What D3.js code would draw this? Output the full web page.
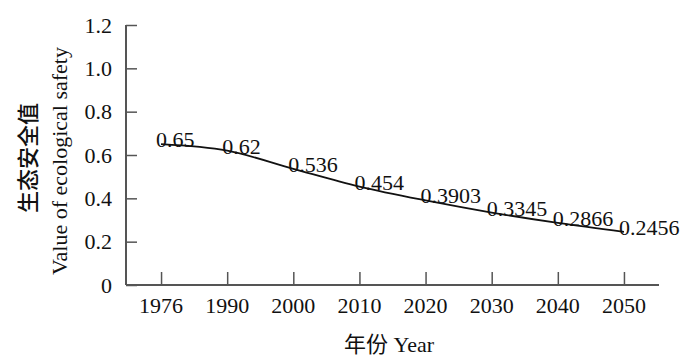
<!DOCTYPE html>
<html><head><meta charset="utf-8">
<script src="https://cdn.jsdelivr.net/npm/d3@7"></script>
<style>body{margin:0;background:#fff}svg{display:block}</style>
</head><body>
<svg id="c" width="700" height="358"></svg>
<script>
const years = ["1976","1990","2000","2010","2020","2030","2040","2050"];
const values = [0.65,0.62,0.536,0.454,0.3903,0.3345,0.2866,0.2456];
const labels = ["0.65","0.62","0.536","0.454","0.3903","0.3345","0.2866","0.2456"];
const yTicks = [0,0.2,0.4,0.6,0.8,1.0,1.2];
const yTickLabels = ["0","0.2","0.4","0.6","0.8","1.0","1.2"];

(function(){
const svg = d3.select("#c");
const serif = "'Liberation Serif','Times New Roman',serif";
const fs = 22;
const mLeft = 126, mRight = 659, mTop = 25, mBottom = 285;
const x = d3.scalePoint().domain(years).range([mLeft, mRight]).padding(0.53);
const y = d3.scaleLinear().domain([0,1.2]).range([mBottom, mTop]);
const axisColor = "#555";

// Y axis
const ya = svg.append("g").attr("transform",`translate(${mLeft},0)`)
  .call(d3.axisRight(y).tickValues(yTicks).tickSize(11).tickFormat(""));
ya.select(".domain").remove();
ya.selectAll("line").attr("stroke",axisColor).attr("stroke-width",1.5);
svg.append("line").attr("x1",mLeft).attr("x2",mLeft).attr("y1",mTop).attr("y2",mBottom)
  .attr("stroke",axisColor).attr("stroke-width",2);
svg.selectAll(".ytl").data(yTicks).enter().append("text")
  .attr("x",112).attr("y",d=>y(d)).attr("dy","0.35em").attr("text-anchor","end")
  .attr("font-family",serif).attr("font-size",fs).attr("fill","#111")
  .text((d,i)=>yTickLabels[i]);

// X axis
const xa = svg.append("g").attr("transform",`translate(0,${mBottom})`)
  .call(d3.axisTop(x).tickSize(13).tickFormat(""));
xa.select(".domain").remove();
xa.selectAll("line").attr("stroke",axisColor).attr("stroke-width",1.5);
svg.append("line").attr("x1",mLeft).attr("x2",mRight).attr("y1",mBottom).attr("y2",mBottom)
  .attr("stroke",axisColor).attr("stroke-width",2);
svg.selectAll(".xtl").data(years).enter().append("text")
  .attr("x",d=>x(d)).attr("y",313).attr("text-anchor","middle")
  .attr("font-family",serif).attr("font-size",fs).attr("fill","#111")
  .text(d=>d);

// Line
const data = years.map((yr,i)=>({yr, v:values[i], lab:labels[i]}));
const line = d3.line().x(d=>x(d.yr)).y(d=>y(d.v)).curve(d3.curveCatmullRom.alpha(0.5));
svg.append("path").datum(data).attr("d",line).attr("fill","none")
  .attr("stroke","#111").attr("stroke-width",1.8);

svg.selectAll(".pl").data(data).enter().append("text")
  .attr("x",d=>x(d.yr)-5).attr("y",d=>y(d.v)+3)
  .attr("font-family",serif).attr("font-size",fs).attr("fill","#111")
  .text(d=>d.lab);

// Titles
const xt = svg.append("text").attr("transform","translate(389,352)").attr("text-anchor","middle")
  .attr("font-size",fs).attr("fill","#111");
xt.append("tspan").attr("font-family","'Noto Sans CJK SC',sans-serif").text("年份");
xt.append("tspan").attr("font-family",serif).text(" Year");
svg.append("text").attr("transform","translate(36,158) rotate(-90)").attr("text-anchor","middle")
  .attr("font-family","'Noto Sans CJK SC',sans-serif").attr("font-size",fs).attr("font-weight",500).attr("fill","#111")
  .text("生态安全值");
svg.append("text").attr("transform","translate(67,161) rotate(-90)").attr("text-anchor","middle")
  .attr("font-family",serif).attr("font-size",fs).attr("fill","#111")
  .text("Value of ecological safety");
})();
</script>
</body></html>
